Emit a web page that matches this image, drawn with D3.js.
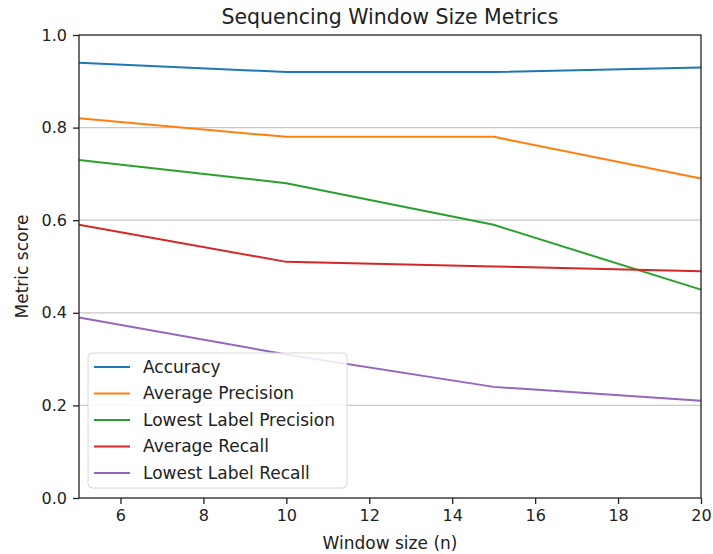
<!DOCTYPE html>
<html>
<head>
<script src="https://cdn.jsdelivr.net/npm/d3@7"></script>
<style>
  body { margin: 0; background: #fff; }
  text { font-family: "DejaVu Sans", sans-serif; fill: #222; }
  .grid line { stroke: #c8c8c8; stroke-width: 1.2px; }
  .axis path, .axis line { stroke: #222; stroke-width: 1.3px; }
</style>
</head>
<body>
<script>
  // data
  var windowSizes = [5, 10, 15, 20];
  var seriesNames = ["Accuracy", "Average Precision", "Lowest Label Precision", "Average Recall", "Lowest Label Recall"];
  var accuracy = [0.94, 0.92, 0.92, 0.93];
  var avgPrecision = [0.82, 0.78, 0.78, 0.69];
  var lowPrecision = [0.73, 0.68, 0.59, 0.45];
  var avgRecall = [0.59, 0.51, 0.50, 0.49];
  var lowRecall = [0.39, 0.31, 0.24, 0.21];
  var xTicks = [6, 8, 10, 12, 14, 16, 18, 20];
  var yTicks = [0.0, 0.2, 0.4, 0.6, 0.8, 1.0];
  var gridTicks = [0.2, 0.4, 0.6, 0.8];
  var colors = ["#1f77b4", "#ff7f0e", "#2ca02c", "#d62728", "#9467bd"];

  var series = [accuracy, avgPrecision, lowPrecision, avgRecall, lowRecall];

  var width = 713, height = 554;
  var margin = {left: 79, right: 12, top: 35, bottom: 56};

  var svg = d3.select("body").append("svg")
      .attr("width", width)
      .attr("height", height);

  var x = d3.scaleLinear().domain([5, 20]).range([margin.left, width - margin.right]);
  var y = d3.scaleLinear().domain([0, 1]).range([height - margin.bottom, margin.top]);

  // horizontal grid
  svg.append("g").attr("class", "grid")
    .selectAll("line").data(gridTicks).enter().append("line")
      .attr("x1", x(5)).attr("x2", x(20))
      .attr("y1", d => y(d)).attr("y2", d => y(d));

  // lines
  var line = d3.line()
      .x((d, i) => x(windowSizes[i]))
      .y(d => y(d));

  svg.selectAll("path.series")
    .data(series)
    .enter().append("path")
      .attr("class", "series")
      .attr("d", line)
      .attr("fill", "none")
      .attr("stroke", (d, i) => colors[i])
      .attr("stroke-width", 2);

  // frame
  svg.append("rect")
      .attr("x", x(5)).attr("y", y(1))
      .attr("width", x(20) - x(5)).attr("height", y(0) - y(1))
      .attr("fill", "none").attr("stroke", "#222").attr("stroke-width", 1.3);

  var xAxis = svg.append("g").attr("class", "axis")
      .attr("transform", `translate(0,${y(0)})`)
      .call(d3.axisBottom(x).tickValues(xTicks).tickSize(6).tickPadding(6).tickFormat(d3.format("d")));
  xAxis.select(".domain").remove();
  xAxis.selectAll("text").style("font-size", "16px");

  var yAxis = svg.append("g").attr("class", "axis")
      .attr("transform", `translate(${x(5)},0)`)
      .call(d3.axisLeft(y).tickValues(yTicks).tickSize(6).tickPadding(6).tickFormat(d3.format(".1f")));
  yAxis.select(".domain").remove();
  yAxis.selectAll("text").style("font-size", "16px");

  // title and labels
  svg.append("text")
      .attr("x", (x(5) + x(20)) / 2).attr("y", 24)
      .attr("text-anchor", "middle")
      .style("font-size", "20.5px")
      .text("Sequencing Window Size Metrics");

  svg.append("text")
      .attr("x", (x(5) + x(20)) / 2).attr("y", 549)
      .attr("text-anchor", "middle")
      .style("font-size", "17px")
      .text("Window size (n)");

  svg.append("text")
      .attr("transform", `translate(28,${(y(0) + y(1)) / 2}) rotate(-90)`)
      .attr("text-anchor", "middle")
      .style("font-size", "17px")
      .text("Metric score");

  // legend
  var legend = svg.append("g").attr("transform", "translate(88,353)");
  legend.append("rect")
      .attr("width", 259).attr("height", 135)
      .attr("rx", 4)
      .attr("fill", "#fff").attr("fill-opacity", 0.85)
      .attr("stroke", "#d8d8d8").attr("stroke-width", 1);

  var items = legend.selectAll("g.item")
    .data(seriesNames)
    .enter().append("g")
      .attr("class", "item")
      .attr("transform", (d, i) => `translate(0,${14 + i * 26.5})`);

  items.append("line")
      .attr("x1", 6).attr("x2", 42)
      .attr("stroke", (d, i) => colors[i])
      .attr("stroke-width", 2);

  items.append("text")
      .attr("x", 55).attr("dy", "0.35em")
      .style("font-size", "17px")
      .text(d => d);
</script>
</body>
</html>
